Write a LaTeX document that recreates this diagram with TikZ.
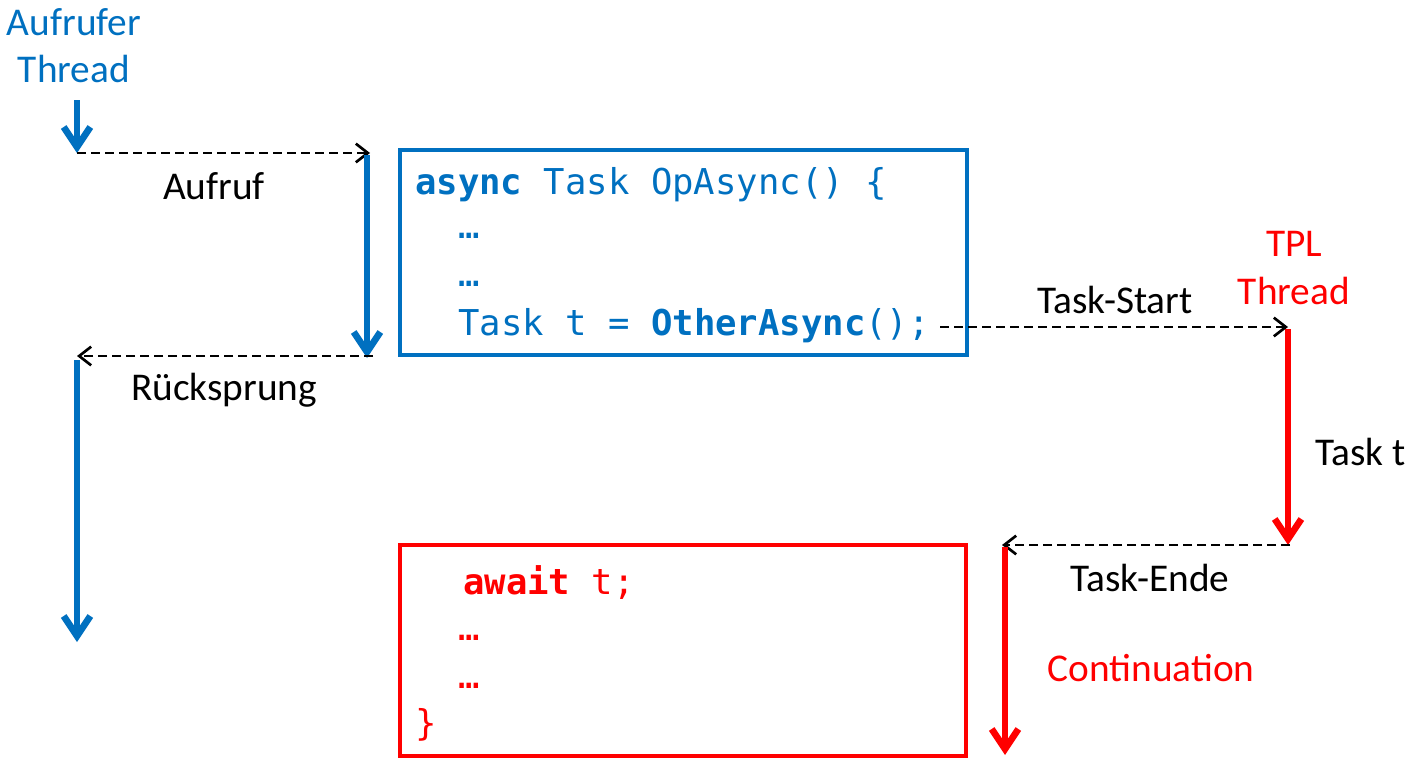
\documentclass[tikz,border=0pt]{standalone}
\usepackage{fontspec}
\setmainfont{Carlito}
\setmonofont{DejaVu Sans Mono}
\usetikzlibrary{arrows.meta}
\definecolor{cBlue}{RGB}{0,112,192}
\definecolor{cRed}{RGB}{255,0,0}
\tikzset{
  lbl/.style={font=\fontsize{29.5}{36}\selectfont,inner sep=0pt,anchor=base},
  code/.style={font=\ttfamily\fontsize{26.7}{32}\selectfont,inner sep=0pt,anchor=base west},
  flow/.style={line width=5pt,-{Straight Barb[length=15pt,width=20pt]}},
  jump/.style={line width=2pt,dash pattern=on 7pt off 3.5pt,-{Straight Barb[length=9pt,width=14pt]}},
}
\begin{document}
\begin{tikzpicture}[x=0.75pt,y=-0.75pt]
\useasboundingbox (0,0) rectangle (1409,764);
% caller thread
\node[lbl,cBlue] (callerA) at (74,35) {Aufrufer};
\node[lbl,cBlue] (callerB) at (74,82) {Thread};
\coordinate (c0) at (77,100);
\coordinate (c1) at (77,153);
\coordinate (c2) at (370,153);
\coordinate (c3) at (367,155);
\coordinate (c4) at (367,358);
\coordinate (c5) at (373,356);
\coordinate (c6) at (77,356);
\coordinate (c7) at (77,360);
\coordinate (c8) at (77,642);
\draw[flow,cBlue] (c0) -- (c1);
\draw[jump] (c1) -- (c2);
\draw[flow,cBlue] (c3) -- (c4);
\draw[jump] (c5) -- (c6);
\draw[flow,cBlue] (c7) -- (c8);
\node[lbl] (call) at (214,199) {Aufruf};
\node[lbl] (ret) at (224,400) {Rücksprung};
% async method
\draw[cBlue,line width=3pt] (400,150) rectangle (967,355);
\node[code,cBlue] (op1) at (415,194) {\textbf{async} Task OpAsync() \{};
\node[code,cBlue] (op2) at (458,238) {…};
\node[code,cBlue] (op3) at (458,286) {…};
\node[code,cBlue] (op4) at (458,335) {Task t = \textbf{OtherAsync}();};
% TPL thread
\node[lbl,cRed] (tplA) at (1294,256) {TPL};
\node[lbl,cRed] (tplB) at (1294,304) {Thread};
\coordinate (t0) at (940,327);
\coordinate (t1) at (1288,327);
\coordinate (t2) at (1288,329);
\coordinate (t3) at (1288,545);
\coordinate (t4) at (1290,545);
\coordinate (t5) at (1002,545);
\coordinate (t6) at (1005,547);
\coordinate (t7) at (1005,755);
\draw[jump] (t0) -- (t1);
\draw[flow,cRed] (t2) -- (t3);
\draw[jump] (t4) -- (t5);
\draw[flow,cRed] (t6) -- (t7);
\node[lbl] (start) at (1115,313) {Task-Start};
\node[lbl,anchor=base west] (task) at (1315,465) {Task t};
\node[lbl] (ende) at (1150,591) {Task-Ende};
\node[lbl,cRed] (cont) at (1151,681) {Continuation};
% continuation
\draw[cRed,line width=3pt] (400,545) rectangle (966,756);
\node[code,cRed] (aw1) at (463,594) {\textbf{await} t;};
\node[code,cRed] (aw2) at (458,640) {…};
\node[code,cRed] (aw3) at (458,688) {…};
\node[code,cRed] (aw4) at (415,735) {\}};
\end{tikzpicture}
\end{document}
